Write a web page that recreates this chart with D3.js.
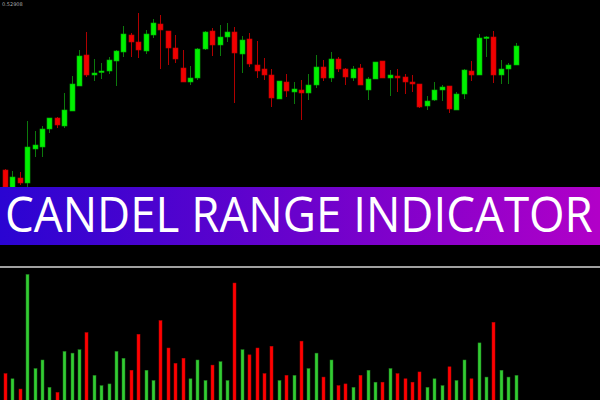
<!DOCTYPE html>
<html><head><meta charset="utf-8">
<script src="https://cdn.jsdelivr.net/npm/d3@7"></script>
<style>html,body{margin:0;padding:0;background:#000;overflow:hidden}</style>
</head><body>
<svg id="chart" width="600" height="400"></svg>
<script>
// OHLC in price points
const opens  = [30,10,22,17,51,53,71,82,74,89,114,145,125,128,129,139,148,165,158,149,165,176,169,152,132,118,122,151,169,155,163,168,146,161,135,131,125,101,118,108,110,107,115,133,122,141,131,122,132,110,121,139,122,124,123,118,116,94,100,110,114,90,106,129,125,162,163,125,131,135];
const highs  = [31,29,28,79,69,74,82,83,107,124,150,168,141,137,143,150,174,167,187,170,181,185,169,165,150,134,152,169,172,175,177,173,164,167,159,142,131,119,126,118,120,126,145,140,148,143,132,134,136,123,138,139,130,131,126,125,116,104,118,115,114,108,131,139,166,164,169,140,137,157];
const lows   = [8,9,15,-2,43,43,67,72,72,89,114,123,119,121,126,114,143,143,142,146,162,131,135,137,118,115,120,150,144,144,158,97,127,133,122,120,93,101,103,96,80,100,112,119,118,128,115,119,115,100,121,122,104,108,106,108,92,90,99,99,87,90,101,119,125,143,117,116,116,135];
const closes = [10,23,17,53,55,71,82,75,90,116,144,125,127,129,140,149,166,158,150,166,177,170,152,141,118,122,151,168,155,163,168,147,160,136,129,125,102,119,109,111,107,115,133,122,141,131,123,131,115,121,138,122,125,122,118,116,93,99,110,113,91,106,130,125,162,163,125,131,135,154];
// Candle range indicator readings
const rangeVals = [23,20,14,81,26,31,15,12,36,35,37,47,22,16,17,36,32,25,46,25,19,54,38,29,32,20,31,19,28,30,19,76,37,34,38,23,39,19,22,22,42,26,35,21,31,16,17,15,22,25,18,18,26,23,20,18,24,15,20,16,27,19,31,20,41,21,53,25,21,22];
const priceLabel = "0.52908";
const bannerText = "CANDEL RANGE INDICATOR";

const svg = d3.select("#chart");
svg.append("rect").attr("width",600).attr("height",400).attr("fill","#000");

const idx = d3.range(opens.length);
const x = d3.scaleLinear().domain([0, opens.length-1]).range([5, 515.6]);
const y = d3.scaleLinear().domain([0,200]).range([200,0]);
const yH = d3.scaleLinear().domain([0,100]).range([413,242]);

const up = i => closes[i] >= opens[i];

// candles
const cg = svg.append("g");
cg.selectAll("line.wick").data(idx).join("line")
  .attr("x1",i=>Math.round(x(i))+0.5).attr("x2",i=>Math.round(x(i))+0.5)
  .attr("y1",i=>y(highs[i])).attr("y2",i=>y(lows[i]))
  .attr("stroke",i=>up(i)?"#0c7a0c":"#b00000").attr("stroke-width",1);
cg.selectAll("rect.body").data(idx).join("rect")
  .attr("x",i=>Math.round(x(i))-2).attr("width",5)
  .attr("y",i=>y(Math.max(opens[i],closes[i])))
  .attr("height",i=>Math.max(1.5, Math.abs(y(opens[i])-y(closes[i]))))
  .attr("fill",i=>up(i)?"#00f000":"#f00000")
  .attr("stroke",i=>up(i)?"#00b000":"#c00000").attr("stroke-width",0.6);

// price label
svg.append("text").attr("x",2).attr("y",6).attr("font-family","DejaVu Sans")
  .attr("font-size",5).attr("fill","#aaa").text(priceLabel);

// banner
const defs = svg.append("defs");
const grad = defs.append("linearGradient").attr("id","bg").attr("x1","0%").attr("x2","100%");
grad.append("stop").attr("offset","0%").attr("stop-color","#2a04d2");
grad.append("stop").attr("offset","50%").attr("stop-color","#6a02cc");
grad.append("stop").attr("offset","100%").attr("stop-color","#b200c8");
svg.append("rect").attr("x",0).attr("y",187).attr("width",600).attr("height",58).attr("fill","url(#bg)");
const baseFs = 49, targetW = 588;
const t = svg.append("text").attr("x",0).attr("y",0)
  .attr("font-family","'Open Sans', 'Noto Sans', sans-serif").attr("font-weight",500)
  .attr("font-size",baseFs).attr("fill","#fff")
  .text(bannerText);
const natW = t.node().getComputedTextLength();
const fs = Math.min(baseFs, baseFs * targetW / natW);
t.attr("font-size", fs).attr("transform", `translate(5,232) scale(1,${baseFs/fs})`);

// separator
svg.append("line").attr("x1",0).attr("x2",600).attr("y1",267).attr("y2",267)
  .attr("stroke","#a0a0a0").attr("stroke-width",2.2);

// histogram
svg.append("g").selectAll("rect").data(idx).join("rect")
  .attr("x",i=>Math.round(x(i))-1).attr("width",3)
  .attr("y",i=>yH(rangeVals[i])).attr("height",i=>yH(0)-yH(rangeVals[i]))
  .attr("fill",i=>up(i)?"#33cc33":"#ff0000")
  .attr("stroke",i=>up(i)?"#1e7e1e":"#c00000").attr("stroke-width",0.5);
</script>
</body></html>
